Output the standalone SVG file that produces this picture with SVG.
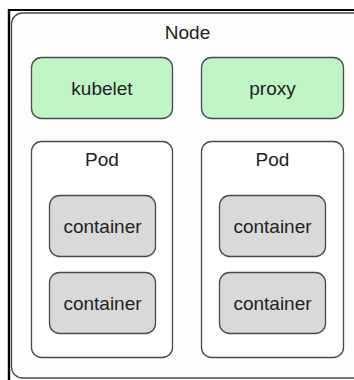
<svg xmlns="http://www.w3.org/2000/svg" width="354" height="380" viewBox="0 0 354 380">
<style>
.box{stroke:#4a4a4a;stroke-width:1.3}
.node{fill:#fdfdfd}
.agent{fill:#c0f5c6}
.pod{fill:#ffffff}
.ctr{fill:#d9d9d9}
text{font-family:"Liberation Sans",Arial,sans-serif;font-size:19px;fill:#222;text-anchor:middle}
</style>
<rect x="0" y="0" width="354" height="380" fill="#ffffff"/>
<line x1="8" y1="10" x2="354" y2="10" stroke="#000" stroke-width="2.2"/>
<line x1="9" y1="9" x2="9" y2="380" stroke="#000" stroke-width="2.4"/>
<g id="node">
<rect class="box node" x="11.5" y="13" width="400" height="365" rx="11"/>
<text x="187.5" y="39">Node</text>
</g>
<g id="kubelet">
<rect class="box agent" x="31.5" y="57.5" width="141" height="61" rx="10"/>
<text x="102" y="95">kubelet</text>
</g>
<g id="proxy">
<rect class="box agent" x="201.5" y="57.5" width="142" height="61" rx="10"/>
<text x="272.5" y="95">proxy</text>
</g>
<g id="pod1">
<rect class="box pod" x="31.5" y="141.5" width="141" height="216" rx="10"/>
<text x="102" y="166">Pod</text>
</g>
<g id="pod2">
<rect class="box pod" x="201.5" y="141.5" width="142" height="216" rx="10"/>
<text x="272.5" y="166">Pod</text>
</g>
<g id="container1">
<rect class="box ctr" x="49.5" y="195.5" width="106" height="61" rx="10"/>
<text x="102.5" y="233">container</text>
</g>
<g id="container2">
<rect class="box ctr" x="49.5" y="272.5" width="106" height="61" rx="10"/>
<text x="102.5" y="310">container</text>
</g>
<g id="container3">
<rect class="box ctr" x="219.5" y="195.5" width="106" height="61" rx="10"/>
<text x="272.5" y="233">container</text>
</g>
<g id="container4">
<rect class="box ctr" x="219.5" y="272.5" width="106" height="61" rx="10"/>
<text x="272.5" y="310">container</text>
</g>
<g id="connectors"></g>
</svg>
